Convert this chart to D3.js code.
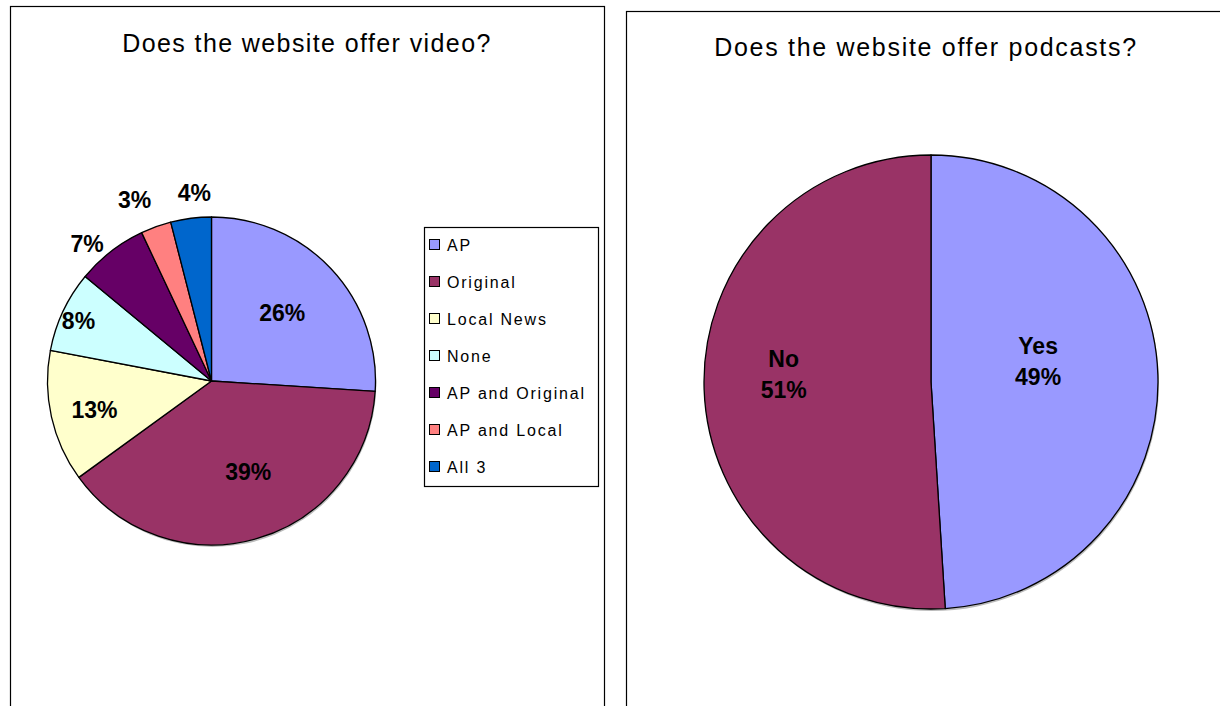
<!DOCTYPE html>
<html>
<head>
<meta charset="utf-8">
<script src="https://cdn.jsdelivr.net/npm/d3@7"></script>
<style>
  html, body { margin: 0; padding: 0; background: #fff; }
  svg { display: block; }
  text { font-family: Arial, "Liberation Sans", sans-serif; }
</style>
</head>
<body>
<svg id="chart" width="1220" height="706"></svg>
<script>
// Video offerings (percent of sites)
const videoCategories = ["AP", "Original", "Local News", "None", "AP and Original", "AP and Local", "All 3"];
const videoValues = [26, 39, 13, 8, 7, 3, 4];
const videoColors = ["#9999FF", "#993366", "#FFFFCC", "#CCFFFF", "#660066", "#FF8080", "#0066CC"];

// Podcast offerings (percent of sites)
const podcastCategories = ["Yes", "No"];
const podcastValues = [49, 51];
const podcastColors = ["#9999FF", "#993366"];

const svg = d3.select("#chart");

// Panel frames
svg.append("rect").attr("x", 10.5).attr("y", 6.5).attr("width", 594).attr("height", 740)
  .attr("fill", "#fff").attr("stroke", "#000").attr("stroke-width", 1.2);
svg.append("rect").attr("x", 626.5).attr("y", 11.5).attr("width", 640).attr("height", 740)
  .attr("fill", "#fff").attr("stroke", "#000").attr("stroke-width", 1.2);

// Titles
svg.append("text").attr("x", 307).attr("y", 52).attr("text-anchor", "middle")
  .attr("font-size", 25).attr("letter-spacing", 1.4).attr("fill", "#000")
  .text("Does the website offer video?");
svg.append("text").attr("x", 926).attr("y", 56).attr("text-anchor", "middle")
  .attr("font-size", 25).attr("letter-spacing", 1.7).attr("fill", "#000")
  .text("Does the website offer podcasts?");

const pie = d3.pie().sort(null).value(d => d);

// place: per-slice label radius (fraction of r) and angular nudge (degrees)
function drawPie(cx, cy, r, values, colors, labelFor, place) {
  const g = svg.append("g").attr("transform", `translate(${cx},${cy})`);
  const arcs = pie(values);
  const arc = d3.arc().innerRadius(0).outerRadius(r);
  // soft shadow under the pie
  g.append("circle").attr("cx", 1).attr("cy", 2).attr("r", r).attr("fill", "#bbb");
  g.selectAll("path.slice").data(arcs).join("path")
    .attr("class", "slice")
    .attr("d", arc)
    .attr("fill", (d, i) => colors[i])
    .attr("stroke", "#000").attr("stroke-width", 1.3).attr("stroke-linejoin", "round");
  arcs.forEach((d, i) => {
    const a = (d.startAngle + d.endAngle) / 2 + place[i][1] * Math.PI / 180;
    const lr = r * place[i][0];
    const c = [lr * Math.sin(a), -lr * Math.cos(a)];
    const lines = labelFor(d, i);
    const t = g.append("text").attr("text-anchor", "middle")
      .attr("font-size", 23).attr("font-weight", "bold").attr("fill", "#000");
    const lh = 31;
    lines.forEach((ln, k) => {
      t.append("tspan").attr("x", c[0])
        .attr("y", c[1] + 8 + (k - (lines.length - 1) / 2) * lh)
        .text(ln);
    });
  });
}

// Video pie
drawPie(211.5, 381, 164, videoValues, videoColors,
  (d) => [d.data + "%"],
  [[0.6, -0.8], [0.6, -5.7], [0.735, -1.3], [0.89, -0.9], [1.13, -4.4], [1.2, -3.2], [1.15, 2]]);

// Podcast pie
drawPie(931, 382, 227, podcastValues, podcastColors,
  (d, i) => [podcastCategories[i], d.data + "%"],
  [[0.48, -8.8], [0.65, 4.9]]);

// Legend for the video pie
const legend = svg.append("g");
legend.append("rect").attr("x", 424.5).attr("y", 227.5).attr("width", 174).attr("height", 259)
  .attr("fill", "#fff").attr("stroke", "#000").attr("stroke-width", 1.2);
const ly = d3.scalePoint().domain(videoCategories).range([245, 467]);
videoCategories.forEach((c, i) => {
  legend.append("rect").attr("x", 429.5).attr("y", ly(c) - 5.5).attr("width", 10).attr("height", 10)
    .attr("fill", videoColors[i]).attr("stroke", "#000").attr("stroke-width", 1);
  legend.append("text").attr("x", 447).attr("y", ly(c) + 6)
    .attr("font-size", 16).attr("letter-spacing", 1.8).attr("fill", "#000").text(c);
});
</script>
</body>
</html>
